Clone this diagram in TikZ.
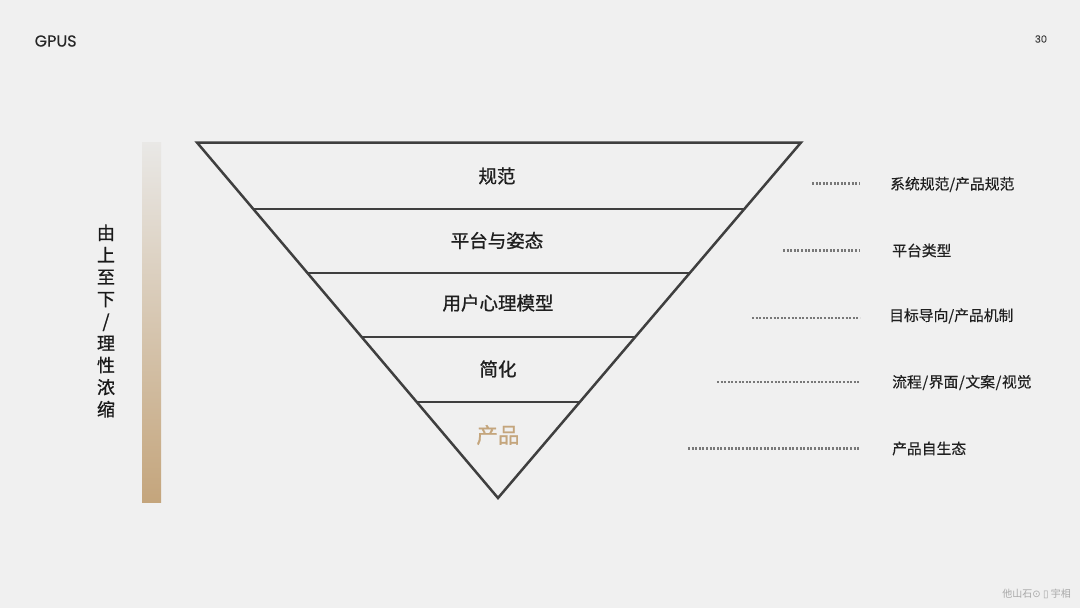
\documentclass[tikz,border=0pt]{standalone}
\usepackage{fontspec}
\setmainfont{Noto Sans CJK SC}
\newfontfamily\medfont[FakeBold=1.0]{Noto Sans CJK SC}
\newfontfamily\descfont[FakeBold=0.3]{Noto Sans CJK SC}
\newfontfamily\latinfont[FakeBold=0.2]{Poppins}
\newfontfamily\symfont{DejaVu Sans}
\definecolor{bgc}{HTML}{F0F0F0}
\definecolor{barc}{HTML}{E9E8E6}
\definecolor{linec}{HTML}{3F3F3F}
\definecolor{goldc}{HTML}{C4A57C}
\definecolor{dotc}{HTML}{787878}
\definecolor{wmc}{HTML}{A8A8A8}
\tikzset{
  layer/.style={font=\fontsize{18.5}{22}\selectfont\medfont, text=black!88, inner sep=0pt, anchor=center},
  desc/.style={font=\fontsize{14.8}{18}\selectfont\descfont, text=black!88, inner sep=0pt, anchor=west},
  tri/.style={draw=linec, line width=2.5pt, line join=miter},
  sep/.style={draw=linec, line width=2.2pt},
  leader/.style={draw=dotc, line width=2.2pt, dash pattern=on 2pt off 1.6pt}
}
\begin{document}
\begin{tikzpicture}[x=1pt,y=-1pt]
\useasboundingbox (0,0) rectangle (1080,608);
\fill[bgc] (0,0) rectangle (1080,608);
\shade[top color=barc, bottom color=goldc, shading angle=0] (142,142) rectangle (161,502);
\coordinate (tl) at (197,142.5);
\coordinate (tr) at (801,142.5);
\coordinate (tb) at (498,498);
\coordinate (l1) at (253.6,209); \coordinate (r1) at (744,209);
\coordinate (l2) at (307.8,273); \coordinate (r2) at (689.5,273);
\coordinate (l3) at (361.9,337); \coordinate (r3) at (635,337);
\coordinate (l4) at (416.8,402); \coordinate (r4) at (579.7,402);
\draw[sep] (l1) -- (r1);
\draw[sep] (l2) -- (r2);
\draw[sep] (l3) -- (r3);
\draw[sep] (l4) -- (r4);
\draw[tri] (tl) -- (tr) -- (tb) -- cycle;
\node[layer] (n1) at (497,176) {规范};
\node[layer] (n2) at (497,240.5) {平台与姿态};
\node[layer] (n3) at (498,303) {用户心理模型};
\node[layer] (n4) at (498,369) {简化};
\node[layer, text=goldc, font=\fontsize{21.5}{24}\selectfont\medfont] (n5) at (498,435) {产品};
\node[desc] (d1) at (890,184.5) {系统规范/产品规范};
\node[desc] (d2) at (892,250.5) {平台类型};
\node[desc] (d3) at (889,316) {目标导向/产品机制};
\node[desc] (d4) at (892,382.5) {流程\kern0.6pt/\kern0.6pt界面\kern0.6pt/\kern0.6pt文案\kern0.6pt/\kern0.6pt视觉};
\node[desc] (d5) at (892,448.5) {产品自生态};
\coordinate (a1) at (812,183.5); \coordinate (b1) at (860,183.5);
\coordinate (a2) at (783,250.5); \coordinate (b2) at (860,250.5);
\coordinate (a3) at (752,318); \coordinate (b3) at (860,318);
\coordinate (a4) at (717,382); \coordinate (b4) at (860,382);
\coordinate (a5) at (688,448.5); \coordinate (b5) at (860,448.5);
\draw[leader] (a1) -- (b1);
\draw[leader] (a2) -- (b2);
\draw[leader] (a3) -- (b3);
\draw[leader] (a4) -- (b4);
\draw[leader] (a5) -- (b5);
\node[inner sep=0pt, align=center, text=black!90, font=\fontsize{18}{22.05}\selectfont\medfont, anchor=center] (side) at (106,321) {由\\上\\至\\下\\/\\理\\性\\浓\\缩};
\node[inner sep=0pt, anchor=west, text=black!85, font=\fontsize{16}{18}\selectfont\latinfont] (logo) at (34.5,41) {GPUS};
\node[inner sep=0pt, anchor=center, text=black!75, font=\fontsize{10}{12}\selectfont\latinfont] (page) at (1041,39) {30};
\node[inner sep=0pt, anchor=east, text=wmc, font=\fontsize{10}{12}\selectfont] (wm) at (1071,594) {他山石{\symfont ⊙} {\symfont\fontsize{10}{12}\selectfont ▯} 宇相};
\end{tikzpicture}
\end{document}
